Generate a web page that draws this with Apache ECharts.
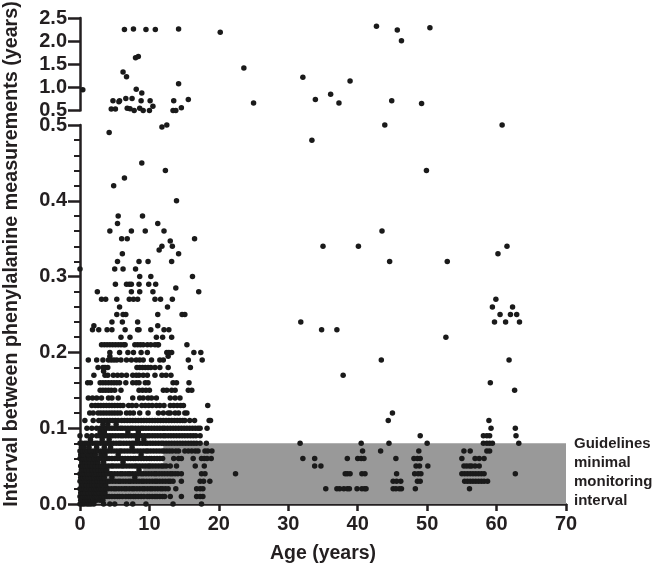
<!DOCTYPE html>
<html>
<head>
<meta charset="utf-8">
<title>Interval between phenylalanine measurements</title>
<script src="https://cdn.jsdelivr.net/npm/echarts@6/dist/echarts.min.js"></script>
<style>
  html, body { margin: 0; padding: 0; background: #fff; }
  #chart { width: 658px; height: 568px; }
</style>
</head>
<body>
<div id="chart"></div>
<script>
// upper panel (0.5 - 2.5 years)
var upperAges = [0.4, 6.4, 7.7, 9.5, 10.85, 14.2, 20.2, 23.6, 32.1, 33.9, 36.1, 25, 8, 8.4, 6.2, 6.7, 14.2, 8.1, 8.9, 4.75, 5.6, 5.7, 6.6, 7.5, 8.8, 10.1, 13.5, 15.6, 4.5, 5.1, 6.8, 7.2, 7.8, 8.6, 9.1, 10, 10.5, 13.4, 13.8, 14.6, 42.7, 45.7, 46.3, 50.4, 38.9, 37.3, 44.9, 49.2];
var upperIntervals = [0.95, 2.25, 2.26, 2.25, 2.25, 2.26, 2.19, 1.42, 1.22, 0.74, 0.85, 0.66, 1.64, 1.67, 1.33, 1.23, 1.08, 0.96, 0.88, 0.71, 0.69, 0.71, 0.76, 0.76, 0.71, 0.71, 0.71, 0.74, 0.53, 0.53, 0.55, 0.54, 0.5, 0.55, 0.5, 0.5, 0.59, 0.5, 0.5, 0.56, 2.32, 2.24, 2.01, 2.29, 1.14, 0.66, 0.71, 0.65];

// lower panel, single points above the dense rows
var looseAges = [4.2, 11.8, 12.5, 8.9, 12.3, 6.4, 4.85, 13.9, 5.5, 9, 5.4, 11.2, 4.3, 7.4, 9.4, 12.1, 6, 6.8, 16.5, 13, 11.8, 13.3, 11.4, 14.2, 6.1, 5, 6.2, 8, 0, 5.4, 8.5, 9.8, 13.2, 8.6, 10.2, 16.2, 5.1, 6.7, 7.1, 7.4, 8.5, 9.9, 10.9, 2.5, 7.4, 8.6, 10.5, 13.8, 17.1, 3.1, 3.7, 5.3, 7.1, 7.7, 8.3, 10.8, 11.6, 13.3, 5.7, 12.6, 5.3, 6.2, 6.6, 11.2, 14.7, 15.1, 4.6, 6.1, 8.3, 2, 1.8, 2.7, 3.9, 4.6, 6.5, 8.3, 8.5, 10.2, 12.1, 12.8, 11.2, 5.9, 7.2, 11, 11.9, 13.2, 43.9, 60.8, 49.9, 43.5, 35, 40.1, 44.6, 52.9, 61.5, 60.2, 59.9, 59.4, 62.3, 60.5, 62, 62.9, 59.7, 61.3, 63.3, 34.8, 37, 52.7, 43.4, 61.8, 37.9, 59.1, 62.6, 31.8, 33.4];
var looseIntervals = [0.49, 0.4975, 0.5, 0.45, 0.44, 0.43, 0.42, 0.4, 0.38, 0.38, 0.37, 0.37, 0.36, 0.36, 0.36, 0.36, 0.35, 0.35, 0.35, 0.347, 0.34, 0.34, 0.335, 0.33, 0.33, 0.31, 0.31, 0.31, 0.31, 0.32, 0.32, 0.32, 0.32, 0.3, 0.3, 0.3, 0.29, 0.29, 0.29, 0.29, 0.29, 0.29, 0.29, 0.28, 0.28, 0.28, 0.28, 0.285, 0.28, 0.27, 0.27, 0.27, 0.27, 0.27, 0.27, 0.27, 0.27, 0.27, 0.26, 0.26, 0.25, 0.25, 0.25, 0.25, 0.25, 0.25, 0.24, 0.24, 0.24, 0.235, 0.23, 0.23, 0.23, 0.23, 0.23, 0.23, 0.23, 0.23, 0.23, 0.23, 0.235, 0.22, 0.22, 0.22, 0.22, 0.22, 0.5, 0.5, 0.44, 0.36, 0.34, 0.34, 0.32, 0.32, 0.34, 0.33, 0.27, 0.26, 0.26, 0.25, 0.25, 0.25, 0.24, 0.24, 0.24, 0.23, 0.23, 0.22, 0.19, 0.19, 0.17, 0.16, 0.15, 0.24, 0.48];

// dense rows, ages read per measurement interval
var row000 = [0, 0.3, 0.6, 1, 1.3, 1.6, 2, 3.4, 4.3, 5, 6.7, 7.6, 9.5, 13.4, 17.5];
var row005 = [0.1, 0.4, 0.8, 1.1, 1.5, 1.9, 2.4, 2.9, 3.3];
var row010 = [0, 0.3, 0.5, 0.8, 1.1, 1.4, 1.7, 2.1, 2.4, 2.8, 3.1, 3.5, 3.9, 4.2, 4.6, 5, 5.4, 5.7, 6.1, 6.6, 7, 7.3, 7.7, 8, 8.4, 8.8, 9.2, 9.7, 10, 10.4, 10.8, 11.1, 11.5, 11.9, 12.2, 13, 14.6, 16.8, 17.3, 17.7];
var row015 = [0.1, 0.5, 0.8, 1.2, 1.6, 2, 2.3, 2.7, 3.2, 3.6];
var row020 = [0, 0.2, 0.6, 0.9, 1.3, 1.6, 2, 2.3, 2.7, 3, 3.4, 3.8, 4.1, 4.5, 4.9, 5.2, 5.6, 6, 6.4, 6.7, 7.1, 7.5, 7.8, 8.2, 8.6, 9, 9.3, 9.7, 10.1, 10.4, 10.8, 11.2, 11.6, 11.9, 12.3, 12.7, 13.8, 16.8, 17.3, 17.7, 35.4, 37, 37.4, 38, 38.5, 38.8, 39.9, 40.6, 41, 41.2, 45.1, 45.5, 46, 46.3, 48.3, 56.1];
var row025 = [0.2, 0.5, 0.9, 1.3, 1.7, 2.1, 2.5, 2.8, 3.2, 3.7];
var row030 = [0, 0.3, 0.7, 1, 1.4, 1.7, 2.1, 2.5, 2.9, 3.2, 3.6, 4, 4.3, 4.7, 5.1, 5.5, 5.8, 6.2, 6.6, 7, 7.3, 7.7, 8.1, 8.5, 8.9, 9.2, 9.6, 10, 10.4, 10.8, 11.1, 11.5, 11.9, 12.3, 12.7, 13, 13.4, 14.6, 17.3, 17.8, 18.7, 45.1, 45.6, 46.2, 48.6, 49, 55.4, 55.8, 56.2, 56.6, 57, 57.4, 57.8, 58.2, 58.7];
var row035 = [0.1, 0.4, 0.8, 1.2, 1.6, 2, 2.4, 2.7, 3.1, 3.5, 4.6, 7.9];
var row040 = [0, 0.3, 0.6, 1, 1.3, 1.7, 2, 2.4, 2.8, 3.1, 3.5, 3.9, 4.3, 4.6, 5, 5.4, 5.8, 6.1, 6.5, 6.9, 7.2, 7.6, 8, 8.4, 8.8, 9.1, 9.5, 9.9, 10.3, 10.7, 11, 11.4, 11.8, 12.2, 12.6, 13, 13.3, 13.7, 14.1, 14.6, 17.5, 18, 22.4, 38.2, 38.5, 38.9, 40.6, 41.05, 45.6, 48.2, 48.7, 49.1, 55, 55.4, 55.8, 56.2, 56.6, 57, 57.4, 57.8, 58.2, 62.7];
var row045 = [0.2, 0.6, 0.9, 1.3, 1.8, 2.2, 2.6, 3, 3.4, 3.8, 8.5];
var row050 = [0.1, 0.4, 0.8, 1.1, 1.5, 1.8, 2.2, 2.6, 3, 3.3, 3.7, 4.1, 4.5, 4.8, 5.2, 5.6, 6, 6.3, 6.7, 7.1, 7.5, 7.9, 8.2, 8.6, 9, 9.4, 9.8, 10.1, 10.5, 10.9, 11.3, 11.7, 12, 12.4, 13, 13.9, 16.6, 17.9, 33.8, 34.7, 48.4, 48.9, 50.1, 55.3, 55.7, 56.1, 56.4, 56.9, 57.5];
var row055 = [0.3, 0.7, 1, 1.4, 1.9, 2.3, 2.6, 3.4, 6.2];
var row060 = [0, 0.2, 0.5, 0.9, 1.3, 1.6, 2, 2.4, 2.7, 3.1, 3.5, 3.9, 4.2, 4.6, 5, 5.4, 5.8, 6.1, 6.5, 6.9, 7.3, 7.7, 8, 8.4, 8.8, 9.2, 9.6, 10, 10.3, 10.7, 11.1, 11.5, 11.9, 13.5, 14.2, 14.6, 16.3, 17.5, 17.9, 18.3, 18.9, 32.1, 33.8, 38.5, 40, 40.5, 40.9, 45.5, 48.1, 48.6, 49, 55, 56.9, 57.5, 58.2];
var row065 = [0.1, 0.5, 1.2, 1.7, 2.2, 3, 3.6, 5.5, 8.8];
var row070 = [0, 0.4, 0.8, 1.1, 1.5, 1.9, 2.3, 2.6, 3, 3.4, 3.8, 4.1, 4.5, 4.9, 5.3, 5.7, 6, 6.4, 6.8, 7.2, 7.6, 7.9, 8.3, 8.7, 9.1, 9.5, 9.8, 10.2, 10.6, 11, 11.4, 11.8, 12.1, 12.5, 12.9, 13.3, 13.8, 14.2, 15.1, 15.6, 16.1, 16.6, 17, 18, 18.4, 19, 40.7, 43.3, 48.8, 55.3, 56.2, 58.6, 59];
var row075 = [0.2, 0.6, 1.3, 2.4, 3.5, 4.4, 7.5];
var row080 = [0, 0.3, 0.7, 1, 1.4, 1.8, 2.2, 2.5, 2.9, 3.3, 3.7, 4, 4.4, 4.8, 5.2, 5.6, 5.9, 6.3, 6.7, 7.1, 7.5, 7.8, 8.2, 8.6, 9, 9.4, 9.7, 10.1, 10.5, 10.9, 11.3, 11.7, 12, 12.4, 12.8, 13.2, 13.6, 14, 14.4, 14.8, 15.2, 15.6, 16, 16.4, 16.8, 17.3, 18.2, 31.7, 40.5, 44.5, 50, 58.1, 58.6, 59, 59.4, 63.2];
var row085 = [1.5, 3.2, 4.2, 8.3, 9.2];
var row090 = [0, 1, 1.7, 2.4, 2.8, 3.2, 3.6, 3.9, 4.3, 4.7, 5.1, 5.5, 5.9, 6.2, 6.6, 7, 7.4, 7.8, 8.1, 8.5, 8.9, 9.3, 9.7, 10, 10.4, 10.8, 11.2, 11.6, 12, 12.3, 12.7, 13.1, 13.5, 13.9, 14.3, 14.7, 15.1, 15.5, 15.9, 16.3, 16.7, 17.3, 49, 58.1, 58.6, 59, 62.8];
var row095 = [2.9, 3.5, 6.9, 8.4];
var row100 = [1, 1.7, 2.4, 2.9, 3.4, 3.8, 4.2, 4.6, 5, 5.4, 5.8, 6.1, 6.5, 6.9, 7.3, 7.6, 8, 8.4, 8.8, 9.1, 9.5, 9.9, 10.3, 10.7, 11.1, 11.5, 11.9, 12.2, 12.6, 13, 13.4, 13.8, 14.2, 14.6, 15, 15.4, 15.8, 16.2, 16.6, 17, 17.3, 18.3, 59.2, 62.7];
var row105 = [3.3, 4, 5.2];
var row110 = [0.7, 1.9, 2.7, 3.1, 3.5, 3.9, 4.3, 4.7, 5.1, 5.5, 6, 6.4, 6.8, 7.2, 7.6, 8, 8.4, 8.8, 9.2, 9.6, 10, 10.4, 10.8, 11.2, 11.6, 12, 12.4, 12.8, 13.2, 13.6, 14, 14.4, 14.8, 15.1, 15.8, 16.5, 18.6, 18.8, 44.4, 58.9];
var row120 = [1.4, 1.9, 2.6, 3, 3.4, 3.8, 4.2, 4.6, 5, 5.4, 5.8, 6.7, 7.2, 7.7, 8.6, 9.8, 11.3, 12, 12.7, 13, 13.7, 14.2, 15.1, 15.4, 45];
var row130 = [1.7, 2.2, 2.6, 3, 3.4, 3.8, 4.2, 4.6, 5, 5.4, 5.8, 6.2, 7, 7.5, 8.1, 8.9, 9.4, 9.9, 10.4, 11, 11.5, 12.1, 13, 13.5, 14, 14.5, 14.9, 18.4];
var row140 = [1.2, 1.8, 2.4, 3.1, 4.1, 4.6, 5.5, 7.6, 8.6, 9.1, 9.8, 10.3, 11, 13, 13.7, 14.4];
var row150 = [2.9, 3.3, 3.7, 4.1, 4.5, 5, 5.9, 8.5, 9, 9.5, 10, 12, 12.5, 13.2, 13.7, 15.6, 16.1];
var row160 = [1.1, 1.5, 2.9, 3.3, 3.7, 4.1, 4.5, 4.9, 5.3, 5.7, 6.6, 7.6, 8.1, 8.5, 9.4, 9.8, 13.4, 13.9, 15.7];
var row170 = [2, 3.6, 4, 4.8, 5.4, 6, 6.7, 7.6, 8.1, 8.5, 9.1, 9.7, 10.8, 11.8, 12.4, 13.1];
var row175 = [3.4];
var row180 = [2.6, 3.3, 3.6, 4, 8.2, 8.6, 9, 9.4, 9.8, 10.2, 10.8, 11.5, 12.7, 15.9];
var row190 = [1.2, 2.4, 3.3, 4.1, 4.5, 4.9, 5.3, 5.9, 6.7, 7.4, 8.1, 8.6, 9.1, 10.3, 11.5, 12, 15.6, 17.6];
var row195 = [4.3, 12.7];
var row200 = [4.3, 5.7, 6.9, 7.7, 8.8, 9.7, 12.5, 12.8, 13.2, 16.4, 17.4];
var row210 = [3.1, 3.5, 3.9, 4.3, 4.7, 5.1, 5.5, 5.9, 6.3, 6.5, 7.9, 8.3, 8.7, 9.1, 9.7, 10.2, 10.8, 11.2, 11.3, 15.4];

var rowIntervals = [0, 0.005, 0.01, 0.015, 0.02, 0.025, 0.03, 0.035, 0.04, 0.045, 0.05, 0.055, 0.06, 0.065, 0.07, 0.075, 0.08, 0.085, 0.09, 0.095, 0.1, 0.105, 0.11, 0.12, 0.13, 0.14, 0.15, 0.16, 0.17, 0.175, 0.18, 0.19, 0.195, 0.2, 0.21];
var rowAges = [row000, row005, row010, row015, row020, row025, row030, row035, row040, row045, row050, row055, row060, row065, row070, row075, row080, row085, row090, row095, row100, row105, row110, row120, row130, row140, row150, row160, row170, row175, row180, row190, row195, row200, row210];

var xTicks = 10;
var guidelineLimit = 0.08;
var guidelineText = 'Guidelines\nminimal\nmonitoring\ninterval';

var fontName = '"Liberation Sans", Arial, sans-serif';
var ink = '#231f20';

var upperData = upperAges.map(function (a, i) { return [a, upperIntervals[i]]; });
var lowerData = looseAges.map(function (a, i) { return [a, looseIntervals[i]]; });
rowAges.forEach(function (ages, i) {
    ages.forEach(function (a) { lowerData.push([a, rowIntervals[i]]); });
});

function axisLabel() {
    return { color: ink, fontFamily: fontName, fontWeight: 'bold', fontSize: 20, margin: 13,
        formatter: function (v) { return v.toFixed(1); } };
}

var myChart = echarts.init(document.getElementById('chart'), null, { renderer: 'canvas' });
myChart.setOption({
    animation: false,
    backgroundColor: '#fff',
    grid: [
        { left: 80, right: 92, top: 18, height: 92.5, outerBoundsMode: 'none' },
        { left: 80, right: 92, top: 125, height: 379, outerBoundsMode: 'none' }
    ],
    xAxis: [
        { gridIndex: 0, type: 'value', min: 0, max: 70, show: false },
        {
            gridIndex: 1, type: 'value', min: 0, max: 70, interval: xTicks,
            name: 'Age (years)', nameLocation: 'middle', nameGap: 40,
            nameTextStyle: { color: ink, fontFamily: fontName, fontWeight: 'bold', fontSize: 19.5 },
            axisLine: { lineStyle: { color: ink, width: 2.5 } },
            axisTick: { length: 7, lineStyle: { color: ink, width: 2.5 } },
            axisLabel: { color: ink, fontFamily: fontName, fontWeight: 'bold', fontSize: 20, margin: 10 },
            splitLine: { show: false }
        }
    ],
    yAxis: [
        {
            gridIndex: 0, type: 'value', min: 0.5, max: 2.5, interval: 0.5,
            axisLine: { show: true, lineStyle: { color: ink, width: 2.5 } },
            axisTick: { length: 12, lineStyle: { color: ink, width: 2.5 } },
            axisLabel: axisLabel(),
            splitLine: { show: false }
        },
        {
            gridIndex: 1, type: 'value', min: 0, max: 0.5, interval: 0.1,
            axisLine: { show: true, lineStyle: { color: ink, width: 2.5 } },
            axisTick: { length: 12, lineStyle: { color: ink, width: 2.5 } },
            minorTick: { show: true, splitNumber: 5, length: 6, lineStyle: { color: ink, width: 2 } },
            axisLabel: axisLabel(),
            splitLine: { show: false }
        }
    ],
    series: [
        {
            name: 'band', type: 'scatter', xAxisIndex: 1, yAxisIndex: 1, data: [], z: 1,
            markArea: {
                silent: true,
                itemStyle: { color: '#999999' },
                data: [
                    [{ coord: [0, 0] }, { coord: [70, guidelineLimit] }],
                    [{ coord: [0.2, 0.053], itemStyle: { color: '#ffffff' } }, { coord: [12, guidelineLimit] }],
                    [{ coord: [4.3, 0.04], itemStyle: { color: '#ffffff' } }, { coord: [9.1, 0.053] }]
                ]
            }
        },
        {
            name: 'upper', type: 'scatter', xAxisIndex: 0, yAxisIndex: 0, z: 5, clip: false,
            symbolSize: 5.5, itemStyle: { color: '#1a1a1a', opacity: 1 }, data: upperData
        },
        {
            name: 'lower', type: 'scatter', xAxisIndex: 1, yAxisIndex: 1, z: 5, clip: false,
            large: false, symbolSize: 5.5, itemStyle: { color: '#1a1a1a', opacity: 1 }, data: lowerData
        }
    ],
    graphic: [
        {
            type: 'text', x: 12, y: 254, rotation: Math.PI / 2,
            style: {
                text: 'Interval between phenylalanine measurements (years)',
                fill: ink, font: 'bold 19.7px ' + fontName,
                textAlign: 'center', textVerticalAlign: 'middle'
            }
        },
        {
            type: 'text', left: 574, top: 435,
            style: {
                text: guidelineText, fill: ink, font: 'bold 15px ' + fontName, lineHeight: 18.7
            }
        }
    ]
});
</script>
</body>
</html>
